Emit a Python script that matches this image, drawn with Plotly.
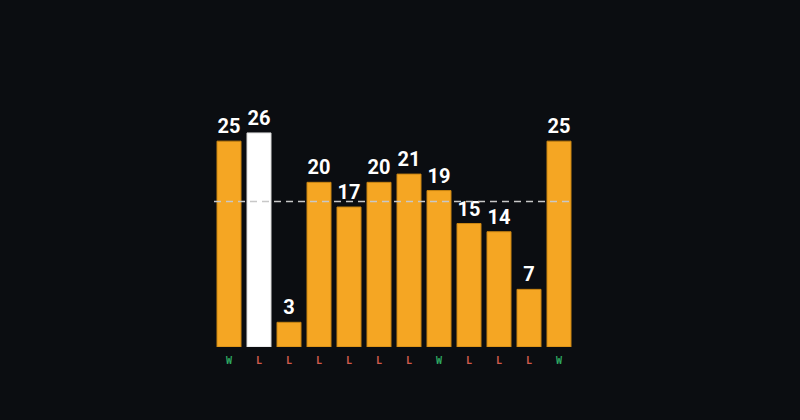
import plotly.graph_objects as go

games = [f"G{i}" for i in range(1, 13)]
points = [25, 26, 3, 20, 17, 20, 21, 19, 15, 14, 7, 25]
results = ["W", "L", "L", "L", "L", "L", "L", "W", "L", "L", "L", "W"]
highlight = "G2"

avg = sum(points) / len(points)
bar_colors = ["#ffffff" if g == highlight else "#f5a623" for g in games]
line_colors = ["#d9d9d9" if g == highlight else "#c98512" for g in games]
res_color = {"W": "#2ea862", "L": "#cf5a4c"}
ticktext = [f'<span style="color:{res_color[r]}">{r}</span>' for r in results]

fig = go.Figure()
fig.add_bar(
    x=games, y=points,
    marker=dict(color=bar_colors, line=dict(color=line_colors, width=1)),
    text=[str(p) for p in points], textposition="outside",
    textfont=dict(family="Roboto, Liberation Sans", size=20, color="#ffffff", weight="bold"),
    cliponaxis=False, hoverinfo="skip",
)
fig.add_shape(type="line", xref="paper", x0=0, x1=1, yref="y", y0=avg, y1=avg,
              line=dict(color="#c8c8c8", width=1.4, dash="7px,5px"))
fig.update_layout(
    width=800, height=420,
    paper_bgcolor="#0b0d11", plot_bgcolor="#0b0d11",
    margin=dict(l=214, r=226, t=100, b=73),
    bargap=0.2, showlegend=False,
)
fig.update_xaxes(tickvals=games, ticktext=ticktext, showgrid=False, zeroline=False,
                 showline=False, ticks="", ticklabelstandoff=6,
                 tickfont=dict(family="DejaVu Sans Mono", size=10, color="#cf5a4c", weight="bold"))
fig.update_yaxes(range=[0, 30], visible=False, showgrid=False, zeroline=False)
fig.write_html("out.html", config={"displayModeBar": False},
               post_script="document.body.style.margin='0';document.body.style.background='#0b0d11';")
